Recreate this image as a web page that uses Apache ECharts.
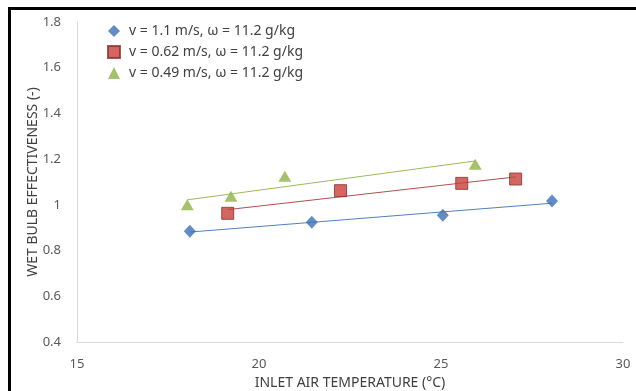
<!DOCTYPE html>
<html>
<head>
<meta charset="utf-8">
<title>Wet bulb effectiveness</title>
<script src="https://cdn.jsdelivr.net/npm/echarts@6/dist/echarts.min.js"></script>
<style>
    html, body { margin: 0; padding: 0; background: #fff; }
    #main { width: 636px; height: 391px; }
    #frame {
        position: absolute; left: 8px; top: 7px; width: 640px; height: 400px;
        border-left: 3px solid #000; border-top: 3px solid #000;
        pointer-events: none;
    }
</style>
</head>
<body>
<div id="main"></div>
<div id="frame"></div>
<script>
// 数据
var seriesNames = ['v = 1.1 m/s, ω = 11.2 g/kg', 'v = 0.62 m/s, ω = 11.2 g/kg', 'v = 0.49 m/s, ω = 11.2 g/kg'];
var tempBlue = [18.1, 21.45, 25.05, 28.05];
var effBlue = [0.885, 0.924, 0.955, 1.017];
var tempRed = [19.14, 22.24, 25.57, 27.05];
var effRed = [0.963, 1.062, 1.094, 1.113];
var tempGreen = [18.03, 19.23, 20.71, 25.94];
var effGreen = [1.0, 1.038, 1.125, 1.178];
var xTicks = [15, 20, 25, 30];
var yTicks = [0.4, 0.6, 0.8, 1, 1.2, 1.4, 1.6, 1.8];

var chart = echarts.init(document.getElementById('main'));
var fontFam = 'Noto Sans';

// 把x、y合成点
function pairs(xs, ys) {
    return xs.map(function(x, i) { return [x, ys[i]]; });
}

// 线性趋势线（最小二乘）
function trend(xs, ys) {
    var n = xs.length, sx = 0, sy = 0, sxy = 0, sxx = 0;
    for (var i = 0; i < n; i++) {
        sx += xs[i]; sy += ys[i]; sxy += xs[i] * ys[i]; sxx += xs[i] * xs[i];
    }
    var k = (n * sxy - sx * sy) / (n * sxx - sx * sx);
    var b = (sy - k * sx) / n;
    var x0 = Math.min.apply(null, xs), x1 = Math.max.apply(null, xs);
    return [[x0, k * x0 + b], [x1, k * x1 + b]];
}

function trendSeries(xs, ys, color) {
    return {
        type: 'line',
        data: trend(xs, ys),
        symbol: 'none',
        silent: true,
        lineStyle: { color: color, width: 1 },
        z: 1
    };
}

var option = {
    animation: false,
    grid: { left: 77, right: 13, top: 22, bottom: 49, outerBoundsMode: 'none' },
    legend: {
        orient: 'vertical',
        left: 102,
        top: 19,
        itemWidth: 12,
        itemHeight: 12,
        itemGap: 7,
        textStyle: { fontFamily: fontFam, fontSize: 14, color: '#404040', padding: [0, 0, 0, 4] },
        data: [
            { name: seriesNames[0], icon: 'diamond' },
            { name: seriesNames[1], icon: 'rect' },
            { name: seriesNames[2], icon: 'triangle' }
        ]
    },
    xAxis: {
        type: 'value',
        min: 15, max: 30, interval: 5,
        name: 'INLET AIR TEMPERATURE (°C)',
        nameLocation: 'middle',
        nameGap: 34,
        nameMoveOverlap: false,
        nameTextStyle: { fontFamily: fontFam, fontSize: 14, color: '#404040' },
        axisLine: { lineStyle: { color: '#d9d9d9' } },
        axisTick: { show: false },
        splitLine: { show: false },
        axisLabel: { fontFamily: fontFam, fontSize: 13, color: '#595959', margin: 16 }
    },
    yAxis: {
        type: 'value',
        min: 0.4, max: 1.8, interval: 0.2,
        name: 'WET BULB EFFECTIVENESS (-)',
        nameLocation: 'middle',
        nameGap: 37,
        nameMoveOverlap: false,
        nameTextStyle: { fontFamily: fontFam, fontSize: 14, color: '#404040' },
        axisLine: { show: true, lineStyle: { color: '#d9d9d9' } },
        axisTick: { show: false },
        splitLine: { show: false },
        axisLabel: {
            fontFamily: fontFam, fontSize: 13, color: '#595959', margin: 16,
            formatter: function(v) { return String(Math.round(v * 10) / 10); }
        }
    },
    series: [
        trendSeries(tempBlue, effBlue, '#4f81bd'),
        trendSeries(tempRed, effRed, '#b0504d'),
        trendSeries(tempGreen, effGreen, '#9bbb59'),
        {
            name: seriesNames[0],
            type: 'scatter',
            data: pairs(tempBlue, effBlue),
            symbol: 'diamond',
            symbolSize: [12, 13],
            itemStyle: { color: '#3a6fb5' },
            z: 3
        },
        {
            name: seriesNames[1],
            type: 'scatter',
            data: pairs(tempRed, effRed),
            symbol: 'rect',
            symbolSize: 12,
            itemStyle: { color: '#c9403a', borderColor: '#8c2f2c', borderWidth: 1 },
            z: 3
        },
        {
            name: seriesNames[2],
            type: 'scatter',
            data: pairs(tempGreen, effGreen),
            symbol: 'triangle',
            symbolSize: [13, 11],
            itemStyle: { color: '#8fb345' },
            z: 3
        }
    ]
};

chart.setOption(option);
</script>
</body>
</html>
